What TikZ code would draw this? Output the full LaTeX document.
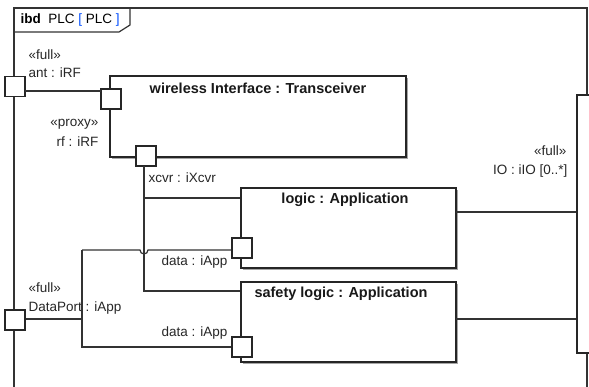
\documentclass[tikz,border=0pt]{standalone}
\usepackage{fontspec}
\setmainfont{Liberation Sans}
\begin{document}
\begin{tikzpicture}[x=1pt,y=-1pt,
  line width=1.2pt,
  port/.style={draw=black!85, fill=white, minimum width=20pt, minimum height=20pt, inner sep=0pt, line width=1.2pt},
  blk/.style={draw=black!85, fill=white, inner sep=0pt, line width=1.2pt},
  shd/.style={fill=black!35, draw=none},
  lbl/.style={font=\fontsize{13.5}{15}\selectfont, inner sep=0pt, text=black!85},
  ttl/.style={font=\fontsize{14.5}{16}\selectfont\bfseries, inner sep=0pt, text=black!90},
  conn/.style={draw=black!80, line width=1.2pt}
]
\useasboundingbox (0,0) rectangle (589,387);
\clip (0,0) rectangle (589,387);
% frame
\draw[conn] (14,400) -- (14,8) -- (587,8) -- (587,400);
% tab
\draw[conn] (14,32) -- (119,32) -- (130,25) -- (130,8);
\node[anchor=west, inner sep=0pt, font=\fontsize{13.5}{15}\selectfont] (tab) at (20,20)
  {\textbf{ibd}\ \ PLC \textcolor{blue!70!cyan}{[} PLC \textcolor{blue!70!cyan}{]}};
% shadows
\fill[shd] (112,78) rectangle (408,159);
\fill[shd] (243,190) rectangle (458,270);
\fill[shd] (243,284) rectangle (458,364);
% blocks
\node[blk, minimum width=296pt, minimum height=81pt] (wi) at (258,116.5) {};
\node[blk, minimum width=215pt, minimum height=80pt] (lg) at (348.5,228) {};
\node[blk, minimum width=215pt, minimum height=80pt] (sl) at (348.5,322) {};
\node[ttl] (wit) at (258,88) {wireless Interface : Transceiver};
\node[ttl] (lgt) at (345,200) {logic : Application};
\node[ttl] (slt) at (341,294) {safety logic : Application};
% IO port
\node[blk, minimum width=20pt, minimum height=258pt] (io) at (587,224) {};
% ports
\node[port] (ant) at (15,86.5) {};
\node[port] (rf) at (111,99) {};
\node[port] (xcvr) at (146,156) {};
\node[port] (dp) at (15,320) {};
\node[port] (d1) at (242,248) {};
\node[port] (d2) at (242,347) {};
% labels
\node[lbl, anchor=west] (l1) at (28,55) {«full»};
\node[lbl, anchor=west] (l2) at (28,73) {ant : iRF};
\node[lbl, anchor=east] (l3) at (99,124) {«proxy»};
\node[lbl, anchor=east] (l4) at (99,142) {rf : iRF};
\node[lbl, anchor=west] (l5) at (148,178) {xcvr : iXcvr};
\node[lbl, anchor=east] (l6) at (228,262) {data : iApp};
\node[lbl, anchor=east] (l7) at (228,333) {data : iApp};
\node[lbl, anchor=west] (l8) at (28,288) {«full»};
\node[lbl, anchor=west] (l9) at (28,308) {DataPort : iApp};
\node[lbl, anchor=east] (l10) at (567,151) {«full»};
\node[lbl, anchor=east] (l11) at (568,171) {IO : iIO [0..*]};
% connectors
\coordinate (a1) at (25,91);
\coordinate (a2) at (101,91);
\draw[conn] (a1) -- (a2);
\coordinate (x1) at (144,166);
\coordinate (x2) at (144,198);
\coordinate (x3) at (144,291);
\draw[conn] (x1) -- (x3) -- (x3 -| sl.west);
\draw[conn] (x2) -- (x2 -| lg.west);
\coordinate (p1) at (82,319);
\coordinate (p2) at (82,250);
\coordinate (p3) at (82,347);
\draw[conn] (dp.east |- p1) -- (p1);
\draw[conn] (p2) -- (p3) -- (d2.west |- p3);
\draw[conn] (p2) -- (140,250) arc[start angle=180, end angle=0, radius=4] -- (d1.west |- p2);
\coordinate (i1) at (456,212);
\coordinate (i2) at (456,319);
\draw[conn] (i1) -- (io.west |- i1);
\draw[conn] (i2) -- (io.west |- i2);
\end{tikzpicture}
\end{document}
